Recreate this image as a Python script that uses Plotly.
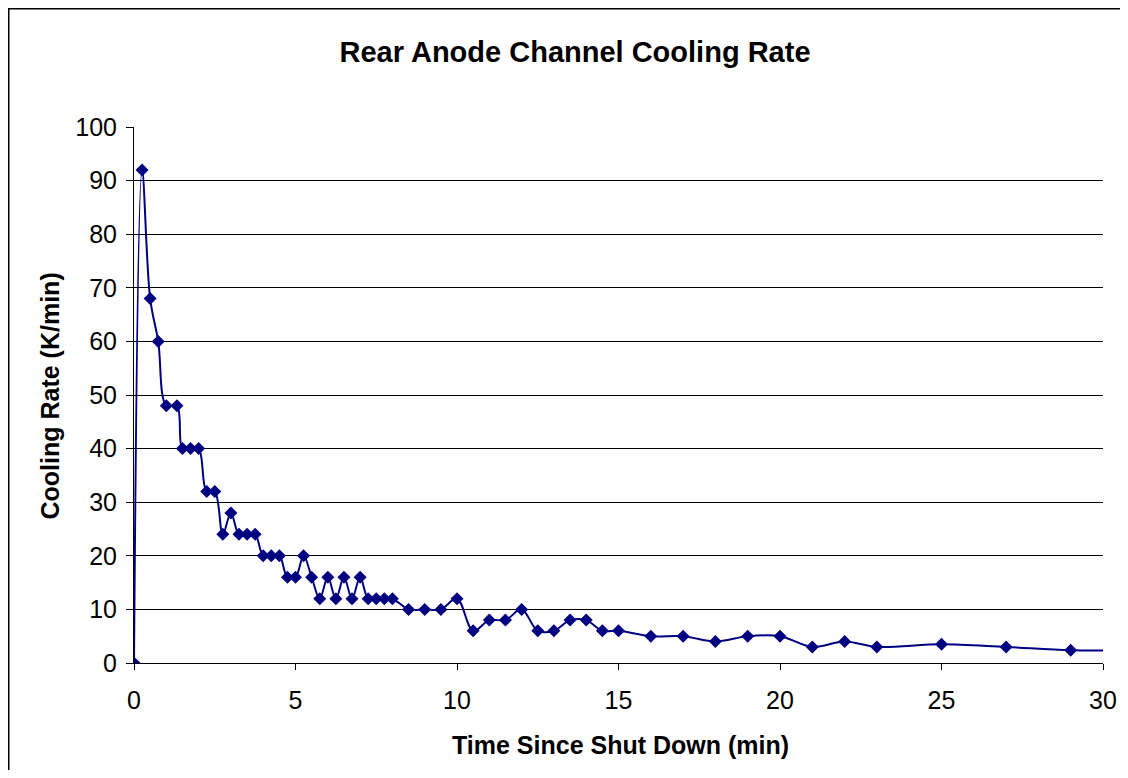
import plotly.graph_objects as go

# Time since shut down (min)
time_min = [0, 0.25, 0.5, 0.75, 1.0, 1.33, 1.5, 1.75, 2.0, 2.25, 2.5, 2.75, 3.0,
            3.25, 3.5, 3.75, 4.0, 4.25, 4.5, 4.75, 5.0, 5.25, 5.5, 5.75, 6.0,
            6.25, 6.5, 6.75, 7.0, 7.25, 7.5, 7.75, 8.0, 8.5, 9.0, 9.5, 10.0,
            10.5, 11.0, 11.5, 12.0, 12.5, 13.0, 13.5, 14.0, 14.5, 15.0, 16, 17,
            18, 19, 20, 21, 22, 23, 25, 27, 29, 31]
# Cooling rate (K/min)
cooling_rate = [0, 92, 68, 60, 48, 48, 40, 40, 40, 32, 32, 24, 28, 24, 24, 24, 20,
                20, 20, 16, 16, 20, 16, 12, 16, 12, 16, 12, 16, 12, 12, 12, 12, 10,
                10, 10, 12, 6, 8, 8, 10, 6, 6, 8, 8, 6, 6, 5, 5, 4, 5, 5, 3, 4, 3,
                3.5, 3, 2.4, 2.4]

x_ticks = [0, 5, 10, 15, 20, 25, 30]
y_ticks = [0, 10, 20, 30, 40, 50, 60, 70, 80, 90, 100]

FONT = "Liberation Sans, Arial, sans-serif"
OFF = 8  # page body margin
W, H = 1112, 762
# target plot area in page pixels: x 134..1103, y 127..663
L = 134 - OFF
T = 127 - OFF
R = W + OFF - 1103
B = H + OFF - 663
PW, PH = W - L - R, H - T - B


def px_x(p):  # page pixel -> paper x
    return (p - OFF - L) / PW


def px_y(p):  # page pixel -> paper y
    return (H - B - (p - OFF)) / PH


fig = go.Figure()
fig.add_trace(go.Scatter(
    x=time_min, y=cooling_rate, mode="lines+markers",
    line=dict(color="#000080", width=2, shape="spline", smoothing=1),
    marker=dict(symbol="diamond", size=10, color="#000080"),
    showlegend=False, cliponaxis=True,
))

border = dict(color="black", width=1.5)

fig.update_layout(
    width=W, height=H, autosize=False,
    margin=dict(l=L, r=R, t=T, b=B, pad=0, autoexpand=False),
    paper_bgcolor="white", plot_bgcolor="white",
    font=dict(family=FONT, size=25, color="black"),
    title=dict(text="<b>Rear Anode Channel Cooling Rate</b>",
               font=dict(family=FONT, size=29, color="black"),
               x=(575 - OFF) / W, xanchor="center", xref="container",
               y=1 - (52 - OFF) / H, yanchor="middle", yref="container"),
    xaxis=dict(range=[0, 30], tickvals=x_ticks, ticktext=[str(v) for v in x_ticks],
               showgrid=False, zeroline=False, showline=True, linecolor="black",
               linewidth=1, ticks="outside", ticklen=6, tickcolor="black",
               tickfont=dict(family=FONT, size=25, color="black"),
               ticklabelstandoff=9, automargin=False),
    yaxis=dict(range=[0, 100], tickvals=y_ticks, ticktext=[str(v) for v in y_ticks],
               showgrid=True, gridcolor="black", gridwidth=1, zeroline=False,
               showline=True, linecolor="black", linewidth=1, ticks="outside",
               ticklen=7, tickcolor="black",
               tickfont=dict(family=FONT, size=25, color="black"),
               ticklabelstandoff=4, automargin=False),
    annotations=[
        dict(text="<b>Time Since Shut Down (min)</b>", xref="paper", yref="paper",
             x=px_x(620), y=px_y(745), xanchor="center", yanchor="middle",
             showarrow=False, font=dict(family=FONT, size=25, color="black")),
        dict(text="<b>Cooling Rate (K/min)</b>", xref="paper", yref="paper",
             x=px_x(49.5), y=px_y(396), xanchor="center", yanchor="middle",
             textangle=-90, showarrow=False,
             font=dict(family=FONT, size=25, color="black")),
    ],
    shapes=[
        dict(type="line", xref="paper", yref="paper",
             x0=px_x(8.75), x1=px_x(8.75), y0=px_y(OFF + 0.75), y1=px_y(800),
             line=border, layer="above"),
        dict(type="line", xref="paper", yref="paper",
             x0=px_x(8), x1=px_x(1140), y0=px_y(OFF + 0.75), y1=px_y(OFF + 0.75),
             line=border, layer="above"),
    ],
)

fig.write_html("out.html")
